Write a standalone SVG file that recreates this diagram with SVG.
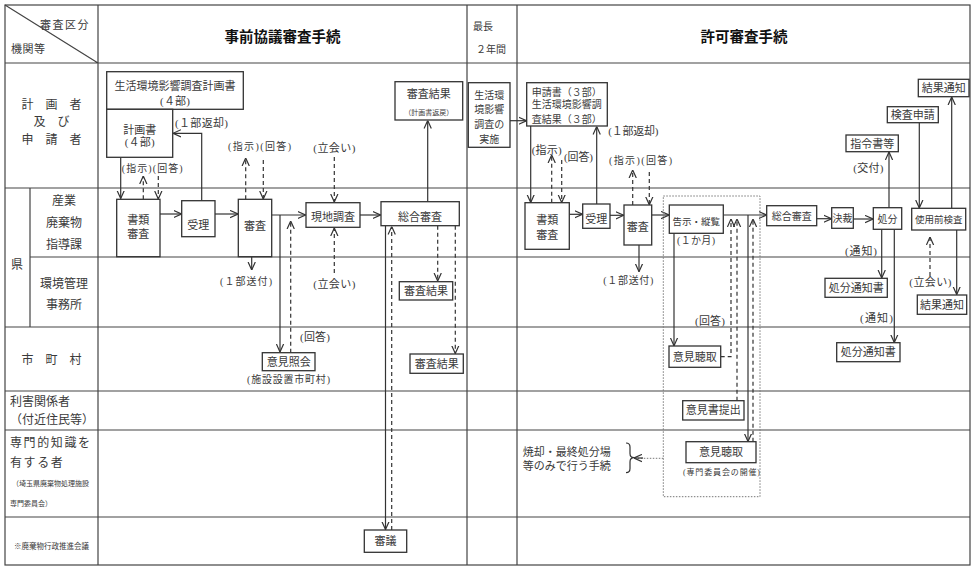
<svg xmlns="http://www.w3.org/2000/svg" width="975" height="570" viewBox="0 0 975 570">
<style>
text{font-family:"Liberation Serif","Noto Sans CJK JP",serif;fill:#3a3a3a;font-size:11px}
.m{text-anchor:middle}
.h{font-family:"Noto Sans CJK JP",sans-serif;font-weight:bold;font-size:14.5px;fill:#111;text-anchor:middle}
.s10{font-size:10px}
.s9{font-size:9.5px}
.s8{font-size:8px}
.s7{font-size:7.5px}
.box{fill:#fff;stroke:#333;stroke-width:1.3}
.grid{stroke:#444;stroke-width:1.2;fill:none}
.ln{stroke:#333;stroke-width:1.2;fill:none}
.dl{stroke:#333;stroke-width:1.2;fill:none;stroke-dasharray:4 3}
.dot{stroke:#777;stroke-width:1;fill:none;stroke-dasharray:1.5 1.5}
</style>
<defs>
<marker id="a" viewBox="0 0 10 10" refX="10" refY="5" markerWidth="8" markerHeight="9" markerUnits="userSpaceOnUse" orient="auto"><path d="M0,0.5 L10,5 L0,9.5" fill="none" stroke="#333" stroke-width="1.5"/></marker>
</defs>
<rect width="975" height="570" fill="#fff"/>
<g id="grid">
<rect x="5" y="5" width="965" height="560" class="grid"/>
<path class="grid" d="M5,63H970M5,188H970M30,257H970M5,327H970M5,391H970M5,430H970M5,517H970M98,5V565M467,5V565M517,5V565M30,188V327M5,5L98,63"/>
</g>
<g id="header">
<text x="40" y="29" style="letter-spacing:1.5px">審査区分</text>
<text x="11" y="53" style="letter-spacing:0.5px">機関等</text>
<text x="282.5" y="41.5" class="h">事前協議審査手続</text>
<text x="473" y="30" class="s10">最長</text>
<text x="476" y="53" class="s10">２年間</text>
<text x="744" y="41.5" class="h">許可審査手続</text>
</g>
<g id="labels">
<text x="51.5" y="109" class="m" style="font-size:12px">計　画　者</text>
<text x="51.5" y="126" class="m" style="font-size:12px">及　び</text>
<text x="51.5" y="144" class="m" style="font-size:12px">申　請　者</text>
<text x="17" y="269" class="m" style="font-size:12px">県</text>
<text x="64" y="205" class="m" style="font-size:12px">産業</text>
<text x="64" y="227" class="m" style="font-size:12px">廃棄物</text>
<text x="64" y="249" class="m" style="font-size:12px">指導課</text>
<text x="64" y="288" class="m" style="font-size:12px">環境管理</text>
<text x="64" y="309" class="m" style="font-size:12px">事務所</text>
<text x="51.5" y="364" class="m" style="font-size:12px">市　町　村</text>
<text x="10" y="406" style="font-size:12px">利害関係者</text>
<text x="10" y="424" style="font-size:12px">（付近住民等）</text>
<text x="10" y="447" style="font-size:12px;letter-spacing:1.6px">専門的知識を</text>
<text x="10" y="467" style="font-size:12px;letter-spacing:1.6px">有する者</text>
<text x="12" y="486" style="font-size:7px">（埼玉県廃棄物処理施設</text>
<text x="10" y="506" style="font-size:7px">専門委員会）</text>
<text x="51.5" y="549" class="m s7">※廃棄物行政推進会議</text>
</g>
<g id="connectors">
<path class="ln" marker-end="url(#a)" d="M120.7,157.3V198.5"/>
<path class="dl" marker-end="url(#a)" d="M143.3,199.3V176"/>
<path class="dl" marker-end="url(#a)" d="M158.3,176V199"/>
<path class="ln" marker-end="url(#a)" d="M160,214H181.5"/>
<path class="ln" marker-end="url(#a)" d="M201.7,200.7V133.3H173"/>
<path class="ln" marker-end="url(#a)" d="M215,214H238"/>
<path class="dl" marker-end="url(#a)" d="M245.7,199.3V158"/>
<path class="dl" marker-end="url(#a)" d="M263.3,160V199"/>
<path class="ln" marker-end="url(#a)" d="M271.7,215H305.5"/>
<path class="ln" marker-end="url(#a)" d="M280,215V352"/>
<path class="dl" marker-end="url(#a)" d="M290.7,352.7V221"/>
<path class="ln" marker-end="url(#a)" d="M251.7,256.7V270"/>
<path class="dl" marker-end="url(#a)" d="M334.3,157V202"/>
<path class="dl" marker-end="url(#a)" d="M334.3,273V228"/>
<path class="ln" marker-end="url(#a)" d="M360,215H380.5"/>
<path class="ln" marker-end="url(#a)" d="M427.7,201.7V120.5"/>
<path class="ln" marker-end="url(#a)" d="M385.5,225.7V529.5"/>
<path class="dl" marker-end="url(#a)" d="M391.7,530V226.5"/>
<path class="dl" marker-end="url(#a)" d="M437.7,225.7V281"/>
<path class="dl" marker-end="url(#a)" d="M455.3,225.7V353.5"/>
<path class="ln" marker-end="url(#a)" d="M510,120.7H526.5"/>
<path class="ln" marker-end="url(#a)" d="M530.7,126V202.5"/>
<path class="dl" marker-end="url(#a)" d="M551.7,202.7V155"/>
<path class="dl" marker-end="url(#a)" d="M561.7,160V202.5"/>
<path class="ln" marker-end="url(#a)" d="M569.3,214.3H582.5"/>
<path class="ln" marker-end="url(#a)" d="M596.7,204V126.5"/>
<path class="ln" marker-end="url(#a)" d="M610,215.3H623.8"/>
<path class="dl" marker-end="url(#a)" d="M632.7,205V170"/>
<path class="dl" marker-end="url(#a)" d="M649.3,172V204.8"/>
<path class="ln" marker-end="url(#a)" d="M639,245V271.7"/>
<path class="ln" marker-end="url(#a)" d="M651.7,215H669"/>
<path class="ln" marker-end="url(#a)" d="M723.3,215H766.5"/>
<path class="ln" marker-end="url(#a)" d="M674,233.3V345.8"/>
<path class="dl" marker-end="url(#a)" d="M720.7,356.7H731V219"/>
<path class="dl" marker-end="url(#a)" d="M737,400.7V219"/>
<path class="ln" marker-end="url(#a)" d="M748,215V441.5"/>
<path class="dl" marker-end="url(#a)" d="M753,441.7V219"/>
<path class="dot" d="M663.3,458.3H636"/>
<path class="ln" marker-end="url(#a)" d="M643,458H634"/>
<path class="ln" d="M626,443Q630,443 630,447V453.5Q630,457.7 634,457.7Q630,457.7 630,462V468.5Q630,472.7 626,472.7"/>
<path class="ln" marker-end="url(#a)" d="M816.7,218.7H831.5"/>
<path class="ln" marker-end="url(#a)" d="M853.3,219H873"/>
<path class="ln" marker-end="url(#a)" d="M889,207.7V152"/>
<path class="ln" marker-end="url(#a)" d="M881.7,229.3V278"/>
<path class="ln" marker-end="url(#a)" d="M894.3,229.3V342.5"/>
<path class="ln" marker-end="url(#a)" d="M919.3,122.7V208"/>
<path class="ln" marker-end="url(#a)" d="M951.7,208.3V97"/>
<path class="ln" marker-end="url(#a)" d="M956.7,230V294.5"/>
<path class="dl" marker-end="url(#a)" d="M930,276V237"/>
</g>
<g id="conn-labels">
<text x="121.7" y="171.5" class="s10" textLength="61" lengthAdjust="spacing">(指示)(回答)</text>
<text x="175" y="127" textLength="53" lengthAdjust="spacing">(１部返却)</text>
<text x="228" y="150" class="s10" textLength="63" lengthAdjust="spacing">(指示)(回答)</text>
<text x="313.3" y="152" textLength="42" lengthAdjust="spacing">(立会い)</text>
<text x="220" y="285" class="s10" textLength="52" lengthAdjust="spacing">(１部送付)</text>
<text x="313.3" y="288" textLength="42" lengthAdjust="spacing">(立会い)</text>
<text x="300" y="341" textLength="30" lengthAdjust="spacing">(回答)</text>
<text x="531.7" y="153.5" textLength="30" lengthAdjust="spacing">(指示)</text>
<text x="564" y="161" textLength="29" lengthAdjust="spacing">(回答)</text>
<text x="608.3" y="134.5" textLength="50" lengthAdjust="spacing">(１部返却)</text>
<text x="609" y="164" class="s10" textLength="63" lengthAdjust="spacing">(指示)(回答)</text>
<text x="603.3" y="283.5" class="s10" textLength="50" lengthAdjust="spacing">(１部送付)</text>
<text x="677" y="244" class="s10" textLength="38" lengthAdjust="spacing">(１か月)</text>
<text x="695" y="324.5" textLength="30" lengthAdjust="spacing">(回答)</text>
<text x="853.3" y="172" textLength="30" lengthAdjust="spacing">(交付)</text>
<text x="845" y="254.5" textLength="32" lengthAdjust="spacing">(通知)</text>
<text x="860" y="322" textLength="33" lengthAdjust="spacing">(通知)</text>
<text x="909.3" y="285.5" textLength="42" lengthAdjust="spacing">(立会い)</text>
<text x="522.7" y="456">焼却・最終処分場</text>
<text x="522.7" y="469.5">等のみで行う手続</text>
</g>
<g id="n_plan_survey"><rect class="box" x="106.7" y="71.7" width="136.6" height="37.6"/><text x="175" y="89.5" class="m">生活環境影響調査計画書</text><text x="160" y="104.5" textLength="30" lengthAdjust="spacing">(４部)</text></g>
<g id="n_plan"><rect class="box" x="106.7" y="109.3" width="66" height="48"/><text x="139.7" y="134" class="m">計画書</text><text x="124.7" y="146" textLength="30" lengthAdjust="spacing">(４部)</text></g>
<g id="n_l_shorui"><rect class="box" x="116.7" y="199.3" width="43.3" height="57.4"/><text x="138.3" y="224" class="m">書類</text><text x="138.3" y="238" class="m">審査</text></g>
<g id="n_l_juri"><rect class="box" x="181.7" y="200.7" width="33.3" height="36"/><text x="198.3" y="229" class="m">受理</text></g>
<g id="n_l_shinsa"><rect class="box" x="238.3" y="199.3" width="33.4" height="57.4"/><text x="255" y="229.7" class="m">審査</text></g>
<g id="n_genchi"><rect class="box" x="306" y="202.7" width="54" height="24.6"/><text x="333" y="221.3" class="m">現地調査</text></g>
<g id="n_l_sogo"><rect class="box" x="381" y="201.7" width="78.3" height="24"/><text x="420" y="220.7" class="m">総合審査</text></g>
<g id="n_l_kekka_top"><rect class="box" x="395" y="81.7" width="67.7" height="38.3"/><text x="428.8" y="98.3" class="m">審査結果</text><text x="428.8" y="114.5" class="m" style="font-size:7px">（計画書返戻）</text></g>
<g id="n_l_kekka_env"><rect class="box" x="399.3" y="281.7" width="53.4" height="18.3"/><text x="426" y="294.8" class="m">審査結果</text></g>
<g id="n_ikenshokai"><rect class="box" x="262.3" y="352.7" width="52.7" height="18"/><text x="288.7" y="365.7" class="m">意見照会</text><text x="247" y="383" class="s10" textLength="83" lengthAdjust="spacing">(施設設置市町村)</text></g>
<g id="n_l_kekka_city"><rect class="box" x="410" y="354" width="53.3" height="19.3"/><text x="436.7" y="367.7" class="m">審査結果</text></g>
<g id="n_shingi"><rect class="box" x="364.3" y="530" width="42.4" height="22.3"/><text x="385.5" y="545" class="m">審議</text></g>
<g id="n_jisshi"><rect class="box" x="468.3" y="82.7" width="41.7" height="64.6"/><text x="489.2" y="99" class="m s10">生活環</text><text x="489.2" y="113.3" class="m s10">境影響</text><text x="489.2" y="128" class="m s10">調査の</text><text x="489.2" y="143" class="m s10">実施</text></g>
<g id="n_shinsei"><rect class="box" x="526.7" y="82.7" width="80.6" height="43.3"/><text x="531.7" y="95.5" class="s10">申請書（３部）</text><text x="531.7" y="108" class="s10">生活環境影響調</text><text x="531.7" y="122.5" class="s10">査結果（３部）</text></g>
<g id="n_r_shorui"><rect class="box" x="525" y="202.7" width="44.3" height="46.6"/><text x="547.2" y="224" class="m">書類</text><text x="547.2" y="239" class="m">審査</text></g>
<g id="n_r_juri"><rect class="box" x="582.7" y="204" width="27.3" height="24.3"/><text x="596.3" y="223" class="m">受理</text></g>
<g id="n_r_shinsa"><rect class="box" x="624" y="205" width="27.7" height="40"/><text x="637.8" y="230.5" class="m">審査</text></g>
<g id="n_kokuji"><rect class="box" x="669.3" y="205" width="54" height="28.3"/><text x="696.3" y="224.5" class="m s9">告示・縦覧</text></g>
<g id="n_r_sogo"><rect class="box" x="766.7" y="205.7" width="50" height="20"/><text x="791.7" y="219.8" class="m s10">総合審査</text></g>
<g id="n_kessai"><rect class="box" x="831.7" y="207.7" width="21.6" height="20.6"/><text x="842.5" y="221.8" class="m s10">決裁</text></g>
<g id="n_shobun"><rect class="box" x="873.3" y="207.7" width="28.4" height="21.6"/><text x="887.5" y="222.5" class="m s10">処分</text></g>
<g id="n_shiyomae"><rect class="box" x="911.7" y="208.3" width="54" height="21.7"/><text x="938.7" y="222.8" class="m s9">使用前検査</text></g>
<g id="n_shireisho"><rect class="box" x="846" y="135" width="52.3" height="16.7"/><text x="872.2" y="147.5" class="m">指令書等</text></g>
<g id="n_kensashinsei"><rect class="box" x="887.3" y="106.7" width="51" height="16"/><text x="912.8" y="118.8" class="m">検査申請</text></g>
<g id="n_kekkatsuchi_top"><rect class="box" x="918.3" y="79.3" width="50.7" height="17.4"/><text x="943.7" y="92" class="m">結果通知</text></g>
<g id="n_shobuntsuchi1"><rect class="box" x="825" y="278.3" width="62.3" height="19"/><text x="856.2" y="291.8" class="m">処分通知書</text></g>
<g id="n_shobuntsuchi2"><rect class="box" x="836.7" y="342.7" width="63.3" height="19"/><text x="868.3" y="356.2" class="m">処分通知書</text></g>
<g id="n_kekkatsuchi_low"><rect class="box" x="917.3" y="295" width="49.4" height="19.3"/><text x="942" y="308.7" class="m">結果通知</text></g>
<g id="n_ikenchoshu_city"><rect class="box" x="669" y="346" width="51.7" height="21.3"/><text x="694.8" y="360.7" class="m">意見聴取</text></g>
<g id="n_ikensho"><rect class="box" x="682.7" y="400.7" width="61.3" height="19.3"/><text x="713.3" y="414.3" class="m">意見書提出</text></g>
<g id="n_ikenchoshu_exp"><rect class="box" x="686" y="441.7" width="70" height="21"/><text x="721" y="456.2" class="m">意見聴取</text><text x="683" y="475" class="s8" textLength="77" lengthAdjust="spacing">(専門委員会の開催)</text></g>
<g id="n_dotted_group"><rect class="dot" x="663.3" y="196" width="96.7" height="300.7"/></g>
</svg>
